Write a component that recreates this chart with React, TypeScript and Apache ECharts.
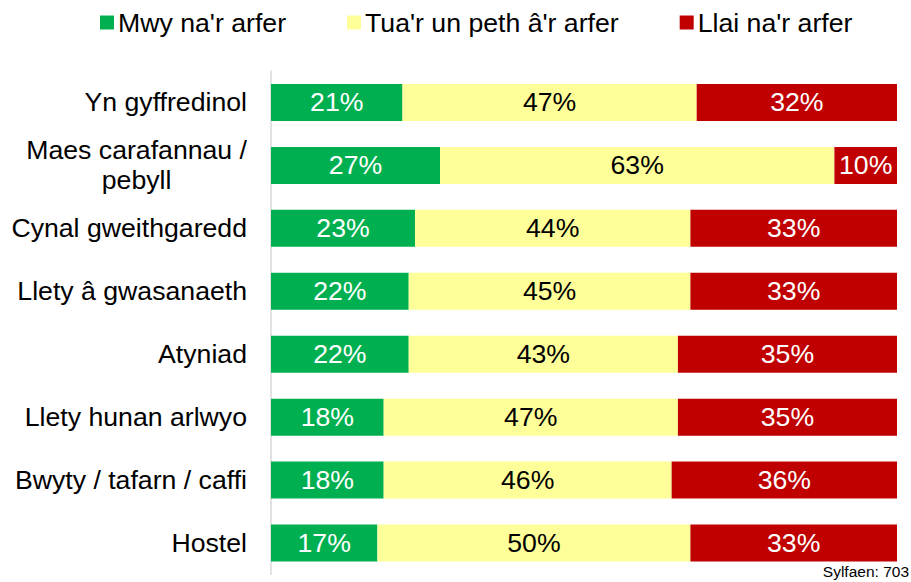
import React, { useEffect, useRef } from "react";
import * as echarts from "echarts";

const categories = [
  "Yn gyffredinol",
  "Maes carafannau /\npebyll",
  "Cynal gweithgaredd",
  "Llety â gwasanaeth",
  "Atyniad",
  "Llety hunan arlwyo",
  "Bwyty / tafarn / caffi",
  "Hostel",
];
const seriesNames = ["Mwy na'r arfer", "Tua'r un peth â'r arfer", "Llai na'r arfer"];
const more = [21, 27, 23, 22, 22, 18, 18, 17];
const same = [47, 63, 44, 45, 43, 47, 46, 50];
const less = [32, 10, 33, 33, 35, 35, 36, 33];
const colors = ["#00B050", "#FFFF99", "#C00000"];
const labelColors = ["#ffffff", "#000000", "#ffffff"];
const baseText = "Sylfaen: 703";

const FONT = "'Liberation Sans', Arial, sans-serif";
const FS = 26.67;

export default function App() {
  const ref = useRef<HTMLDivElement>(null);
  useEffect(() => {
    if (!ref.current) return;
    const chart = echarts.init(ref.current, null, { renderer: "svg" });
    const data = [more, same, less];
    chart.setOption({
      animation: false,
      textStyle: { fontFamily: FONT },
      legend: {
        left: 95,
        top: 4,
        itemWidth: 14,
        itemHeight: 14,
        itemGap: 61,
        icon: "rect",
        textStyle: { fontSize: FS, color: "#000", fontFamily: FONT, padding: [0, 0, 0, -1] },
        data: seriesNames,
      },
      grid: { left: 271, right: 14, top: 71, bottom: 7.5, containLabel: false },
      xAxis: { type: "value", min: 0, max: 100, show: false },
      yAxis: {
        type: "category",
        inverse: true,
        data: categories,
        axisLine: { show: true, lineStyle: { color: "#d9d9d9", width: 1.5 } },
        axisTick: { show: false },
        axisLabel: {
          margin: 24,
          fontSize: FS,
          color: "#000",
          fontFamily: FONT,
          lineHeight: 30,
          formatter: (v: string) =>
            v
              .split("\n")
              .map((s) => `{c|${s}}`)
              .join("\n"),
          rich: { c: { align: "center", fontSize: FS, lineHeight: 30, fontFamily: FONT, color: "#000" } },
        },
      },
      series: seriesNames.map((name, i) => ({
        name,
        type: "bar",
        stack: "total",
        barWidth: 37,
        data: data[i],
        itemStyle: { color: colors[i] },
        label: {
          show: true,
          position: "inside",
          formatter: "{c}%",
          fontSize: FS,
          color: labelColors[i],
          fontFamily: FONT,
        },
      })),
      graphic: [
        {
          type: "text",
          right: 2,
          top: 563,
          style: { text: baseText, fontSize: 15.5, fill: "#000", font: `15.5px ${FONT}` },
        },
      ],
    });
    return () => chart.dispose();
  }, []);
  return (
    <div
      ref={ref}
      style={{ position: "fixed", left: 0, top: 0, width: 911, height: 582, background: "#fff" }}
    />
  );
}
